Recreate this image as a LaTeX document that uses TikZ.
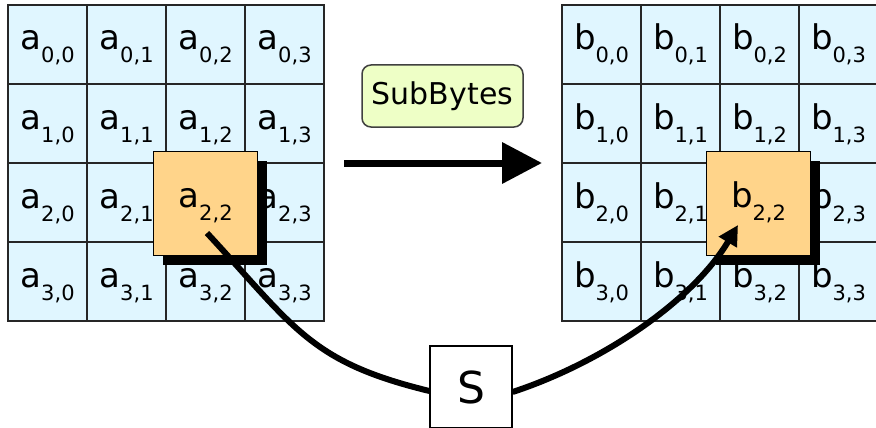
\documentclass[tikz,border=0pt]{standalone}
\usepackage{fontspec}
\setmainfont{DejaVu Sans}
\usetikzlibrary{arrows.meta,shadows}
\definecolor{cellblue}{HTML}{E0F6FF}
\definecolor{hlorange}{HTML}{FFD48A}
\definecolor{sbgreen}{HTML}{EEFFC6}
\newcommand{\elem}[3]{#1\raisebox{-13pt}{\fontsize{21}{21}\selectfont #2,#3}}
\begin{document}
\begin{tikzpicture}[x=1pt,y=-1pt,
  cell/.style={draw=black!85, line width=1.2pt, fill=cellblue, minimum size=79pt,
    inner sep=0pt, text height=24pt, text depth=13pt, font=\fontsize{34}{34}\selectfont},
  hl/.style={draw=black, line width=1.6pt, fill=hlorange, minimum size=104pt,
    inner sep=0pt, text height=24pt, text depth=17pt, font=\fontsize{34}{34}\selectfont,
    general shadow={fill=black, shadow xshift=9pt, shadow yshift=-9pt}},
  opbox/.style={draw=black!75, line width=1.5pt, rounded corners=9pt, fill=sbgreen,
    minimum width=161pt, minimum height=62pt, inner sep=0pt, font=\fontsize{30}{30}\selectfont},
  sbox/.style={draw=black, line width=1.2pt, fill=white, minimum size=82pt, inner sep=0pt,
    font=\fontsize{44}{44}\selectfont},
  conn/.style={line width=6pt}]
\useasboundingbox (0,0) rectangle (876,428);
\foreach \r in {0,...,3}{\foreach \c in {0,...,3}{
  \node[cell] (a\r\c) at ({47.5+79*\c},{44.5+79*\r}) {\elem{a}{\r}{\c}};
  \node[cell] (b\r\c) at ({601.5+79*\c},{44.5+79*\r}) {\elem{b}{\r}{\c}};
}}
\node[hl] (a22h) at (205.5,203.5) {\elem{a}{2}{2}};
\node[hl] (b22h) at (758.5,203.5) {\elem{b}{2}{2}};
\node[opbox] (sb) at (442.5,96) {SubBytes};
\coordinate (p1) at (344,163);
\coordinate (p2) at (542,163);
\draw[line width=7pt, -{Triangle[length=40pt,width=40pt]}] (p1) -- (p2);
\node[sbox] (s) at (471,387) {S};
\coordinate (c1) at (207,233);
\coordinate (c2) at (738,225);
\draw[conn] (c1) .. controls (295,328) and (310,362) .. ([yshift=-4pt]s.west);
\draw[conn, -{Triangle[length=20pt,width=20pt]}] ([yshift=-5pt]s.east) .. controls (601,363) and (692,302) .. (c2);
\end{tikzpicture}
\end{document}
